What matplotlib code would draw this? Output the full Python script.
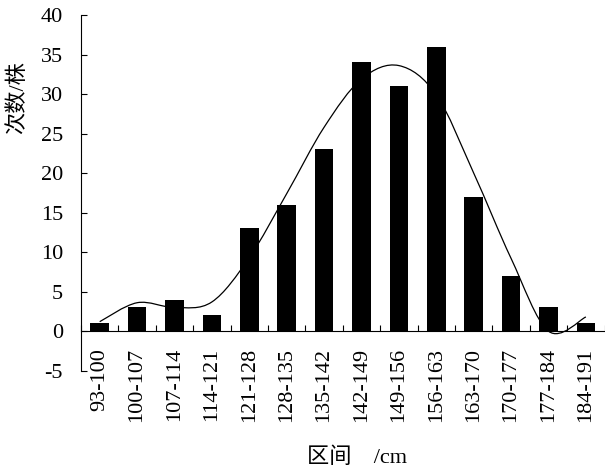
import numpy as np
import matplotlib
matplotlib.use('Agg')
import matplotlib.pyplot as plt
from matplotlib.path import Path
from matplotlib.patches import PathPatch

plt.rcParams['font.family'] = ['Liberation Serif', 'Noto Sans CJK SC']
plt.rcParams['axes.unicode_minus'] = False
plt.rcParams['font.size'] = 16

# data
intervals = ['93-100', '100-107', '107-114', '114-121', '121-128', '128-135', '135-142',
             '142-149', '149-156', '156-163', '163-170', '170-177', '177-184', '184-191']
counts = [1, 3, 4, 2, 13, 16, 23, 34, 31, 36, 17, 7, 3, 1]
# values of the smoothed trend line at each interval
trend = [1.2, 3.6, 3.0, 3.7, 9.3, 17.4, 25.8, 31.9, 33.6, 29.9, 20.0, 9.2, 0.0, 1.8]
y_ticks = [-5, 0, 5, 10, 15, 20, 25, 30, 35, 40]

fig = plt.figure(figsize=(6.05, 4.72), dpi=100)
ax = fig.add_axes([81 / 605, 1 - 370.7 / 472, (604.6 - 81) / 605, (370.7 - 15) / 472])

x = np.arange(len(counts))
ax.bar(x, counts, width=0.5, color='black', zorder=2)

# smoothed line drawn as bezier segments (catmull-rom, like excel "smoothed line")
pts = np.column_stack([x, trend]).astype(float)
n = len(pts)
verts = [tuple(pts[0])]
codes = [Path.MOVETO]
for i in range(n - 1):
    p0 = pts[max(i - 1, 0)]
    p1 = pts[i]
    p2 = pts[i + 1]
    p3 = pts[min(i + 2, n - 1)]
    c1 = p1 + (p2 - p0) / 6
    c2 = p2 - (p3 - p1) / 6
    verts += [tuple(c1), tuple(c2), tuple(p2)]
    codes += [Path.CURVE4] * 3
ax.add_patch(PathPatch(Path(verts, codes), fill=False, edgecolor='black', lw=0.9, zorder=1))

ax.set_xlim(-0.5, len(counts) - 0.5)
ax.set_ylim(-5, 40)
ax.set_yticks(y_ticks)

ax.spines['top'].set_visible(False)
ax.spines['right'].set_visible(False)
ax.spines['bottom'].set_position(('data', 0))
ax.spines['left'].set_linewidth(0.8)
ax.spines['bottom'].set_linewidth(0.8)

ax.set_xticks(np.arange(-0.5, len(counts), 1))
ax.set_xticklabels([])
ax.set_xticks(x, minor=True)
ax.set_xticklabels(intervals, minor=True, rotation=90)
ax.tick_params(axis='x', which='major', direction='in', length=4.5, width=0.8)
ax.tick_params(axis='x', which='minor', length=0, pad=12)
ax.tick_params(axis='y', direction='in', length=4.5, width=0.8, pad=13)

fig.text(18 / 605, 1 - 97.5 / 472, '次数/株', rotation=90, ha='center', va='center')
fig.text(357 / 605, 1 - 458 / 472, '区间\u3000/cm', ha='center', va='center')

fig.savefig('out.png', dpi=100)
